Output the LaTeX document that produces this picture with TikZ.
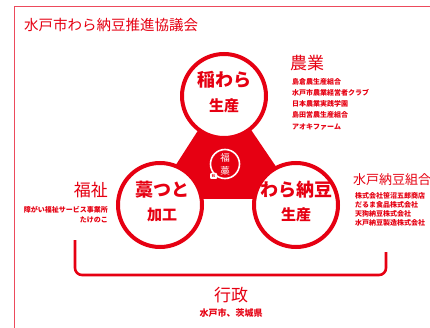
\documentclass[tikz,border=0pt]{standalone}
\usepackage{fontspec}
\setmainfont{Noto Sans CJK JP}
\newfontfamily\jp{Noto Sans CJK JP}
\definecolor{wred}{HTML}{E60012}
\definecolor{fred}{HTML}{EC4A5C}
\tikzset{
  x=1pt,y=-1pt,
  ring/.style={circle,draw=wred,fill=white,line width=4pt,minimum size=84pt,inner sep=0pt},
  big/.style={text=wred,inner sep=0pt,font=\fontsize{18}{20}\selectfont\bfseries},
  mid/.style={text=wred,inner sep=0pt,font=\fontsize{15}{17}\selectfont\bfseries},
  cat/.style={text=wred,inner sep=0pt,font=\fontsize{17}{19}\selectfont},
  small/.style={text=wred,inner sep=0pt,font=\fontsize{7}{8}\selectfont\bfseries},
}
\begin{document}
\begin{tikzpicture}
\useasboundingbox (0,0) rectangle (430,328);
\fill[white] (0,0) rectangle (430,328);
% frame
\draw[fred,line width=0.9pt] (14,328) -- (14,6) -- (430,6);
\node[text=wred,anchor=west,inner sep=0pt,font=\fontsize{14.5}{16}\selectfont] (title) at (24,25) {水戸市わら納豆推進協議会};
% red core
\coordinate (ct) at (224,90);
\coordinate (cl) at (154,199);
\coordinate (cr) at (298,199);
\fill[wred] (ct) -- (cl) -- (cr) -- cycle;
% circles
\node[ring] (top) at (224,96) {};
\node[ring] (left) at (160,205) {};
\node[ring] (right) at (296,205) {};
\node[big] (tA) at (224,80) {稲わら};
\node[mid] (tB) at (224,106) {生産};
\node[big] (lA) at (162,190) {藁つと};
\node[mid] (lB) at (162,215) {加工};
\node[big] (rA) at (296,190) {わら納豆};
\node[mid] (rB) at (296,215) {生産};
% centre
\node[circle,fill=wred,draw=white,line width=1.6pt,minimum size=29pt,inner sep=0pt] (core) at (225,164) {};
\node[text=white,inner sep=0pt,font=\fontsize{9.5}{10}\selectfont] (fuku) at (225,157.5) {福};
\node[text=white,inner sep=0pt,font=\fontsize{9.5}{10}\selectfont] (wara) at (225,170.5) {藁};
\node[fill=white,rounded corners=1pt,minimum width=7pt,minimum height=6pt,inner sep=0pt,text=wred,font=\fontsize{4}{4}\selectfont\bfseries] (mark) at (213.5,176) {tt};
% 農業
\node[cat,anchor=west] (nogyo) at (290,63) {農業};
\node[small,anchor=west] (n1) at (292,82) {島倉農生産組合};
\node[small,anchor=west] (n2) at (292,93) {水戸市農業経営者クラブ};
\node[small,anchor=west] (n3) at (292,104) {日本農業実践学園};
\node[small,anchor=west] (n4) at (292,115) {島田営農生産組合};
\node[small,anchor=west] (n5) at (292,127) {アオキファーム};
% 水戸納豆組合
\node[text=wred,inner sep=0pt,anchor=west,font=\fontsize{13}{15}\selectfont] (natto) at (353,180) {水戸納豆組合};
\node[small,anchor=west] (m1) at (355,196) {株式会社笹沼五郎商店};
\node[small,anchor=west] (m2) at (355,205) {だるま食品株式会社};
\node[small,anchor=west] (m3) at (355,214) {天狗納豆株式会社};
\node[small,anchor=west] (m4) at (355,223) {水戸納豆製造株式会社};
% 福祉
\node[cat,anchor=east] (fukushi) at (108,190) {福祉};
\node[small,anchor=east] (f1) at (108,210) {障がい福祉サービス事業所};
\node[small,anchor=east] (f2) at (108,220) {たけのこ};
% bracket
\coordinate (bl) at (75,240);
\coordinate (br) at (386,252);
\draw[wred,line width=2.6pt,rounded corners=7pt] (bl) -- (75,275) -- (386,275) -- (br);
\node[cat] (gyosei) at (231,295) {行政};
\node[text=wred,inner sep=0pt,font=\fontsize{9}{10}\selectfont\bfseries] (g1) at (231,313) {水戸市、茨城県};
\end{tikzpicture}
\end{document}
